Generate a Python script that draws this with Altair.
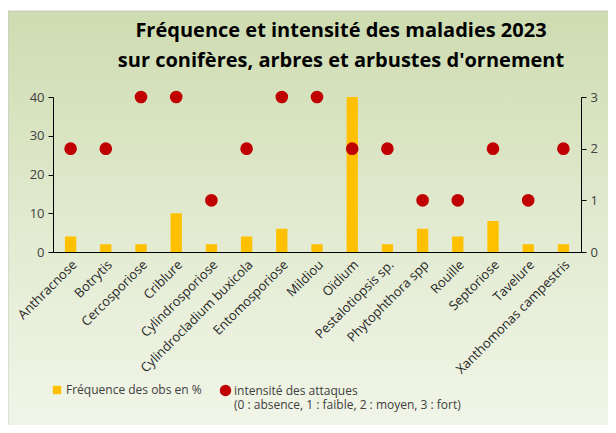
import altair as alt
import pandas as pd

categories = ["Anthracnose", "Botrytis", "Cercosporiose", "Criblure", "Cylindrosporiose",
              "Cylindrocladium buxicola", "Entomosporiose", "Mildiou", "Oïdium",
              "Pestalotiopsis sp.", "Phytophthora spp", "Rouille", "Septoriose",
              "Tavelure", "Xanthomonas campestris"]
frequence = [4, 2, 2, 10, 2, 4, 6, 2, 40, 2, 6, 4, 8, 2, 2]
intensite = [2, 2, 3, 3, 1, 2, 3, 3, 2, 2, 1, 1, 2, 1, 2]
freq_ticks = [0, 10, 20, 30, 40]
int_ticks = [0, 1, 2, 3]

LBL_FREQ = "Fréquence des obs en %"
LBL_INT = "intensité des attaques"

df = pd.DataFrame({
    "maladie": categories,
    "freq": frequence,
    "int": intensite,
    "s1": LBL_FREQ,
    "s2": LBL_INT,
})

FONT = "Open Sans"
TXT = "#404040"
W, H = 528, 155

x = alt.X("maladie:N", sort=None,
          scale=alt.Scale(paddingInner=0.68, paddingOuter=0.34),
          axis=alt.Axis(title=None, labelAngle=-45, ticks=False, domainColor="black",
                        labelColor="#262626", labelFontSize=13, labelFont=FONT, labelPadding=6,
                        zindex=1))

bg = alt.Chart(pd.DataFrame({"a": [0]})).mark_rect(
    color=alt.Gradient(gradient="linear", x1=0, x2=0, y1=0, y2=1,
                       stops=[alt.GradientStop(color="#cedcb1", offset=0),
                              alt.GradientStop(color="#e3ebd2", offset=0.55),
                              alt.GradientStop(color="#f1f5e8", offset=1)]),
    stroke="#c8c8c8", strokeWidth=1
).encode(x=alt.value(-45), x2=alt.value(W + 30), y=alt.value(-86), y2=alt.value(H + 175))

bars = alt.Chart(df).mark_bar(size=11.3).encode(
    x=x,
    y=alt.Y("freq:Q", scale=alt.Scale(domain=[0, 40]),
            axis=alt.Axis(title=None, values=freq_ticks, orient="left", grid=False,
                          domainColor="black", tickColor="black", tickSize=5,
                          labelColor=TXT, labelFontSize=13, labelFont=FONT, labelPadding=4,
                          zindex=1)),
    color=alt.Color("s1:N", scale=alt.Scale(domain=[LBL_FREQ], range=["#ffc000"]),
                    legend=alt.Legend(title=None, orient="none", legendX=-2, legendY=287,
                                      symbolType="square", symbolSize=70, labelOffset=3,
                                      labelFont=FONT, labelFontSize=12, labelColor=TXT)),
)

points = alt.Chart(df).mark_circle(size=160, opacity=1).encode(
    x=x,
    y=alt.Y("int:Q", scale=alt.Scale(domain=[0, 3]),
            axis=alt.Axis(title=None, values=int_ticks, orient="right", grid=False,
                          domainColor="black", tickColor="black", tickSize=5,
                          labelColor=TXT, labelFontSize=13, labelFont=FONT, labelPadding=4,
                          zindex=1)),
    color=alt.Color("s2:N", scale=alt.Scale(domain=[LBL_INT], range=["#c00000"]),
                    legend=alt.Legend(title=None, orient="none", legendX=166, legendY=287,
                                      symbolType="circle", symbolSize=130, labelOffset=2,
                                      labelFont=FONT, labelFontSize=12, labelColor=TXT,
                                      labelLimit=400,
                                      labelExpr="['intensité des attaques', '(0 : absence, 1 : faible, 2 : moyen, 3 : fort)']")),
)

chart = alt.layer(bg, bars, points).resolve_scale(
    y="independent", color="independent"
).resolve_legend(color="independent").properties(
    width=W, height=H,
    autosize=alt.AutoSizeParams(type="none"),
    padding={"left": 45, "top": 89, "right": 27, "bottom": 173},
    title=alt.TitleParams(
        text=["Fréquence et intensité des maladies 2023",
              "sur conifères, arbres et arbustes d'ornement"],
        font=FONT, fontSize=20, fontWeight="bold", color="black",
        anchor="middle", dx=24, lineHeight=30, offset=-60),
).configure_view(stroke=None).configure(background="white")

chart.save("out.html", embed_options={"renderer": "svg", "actions": False})
